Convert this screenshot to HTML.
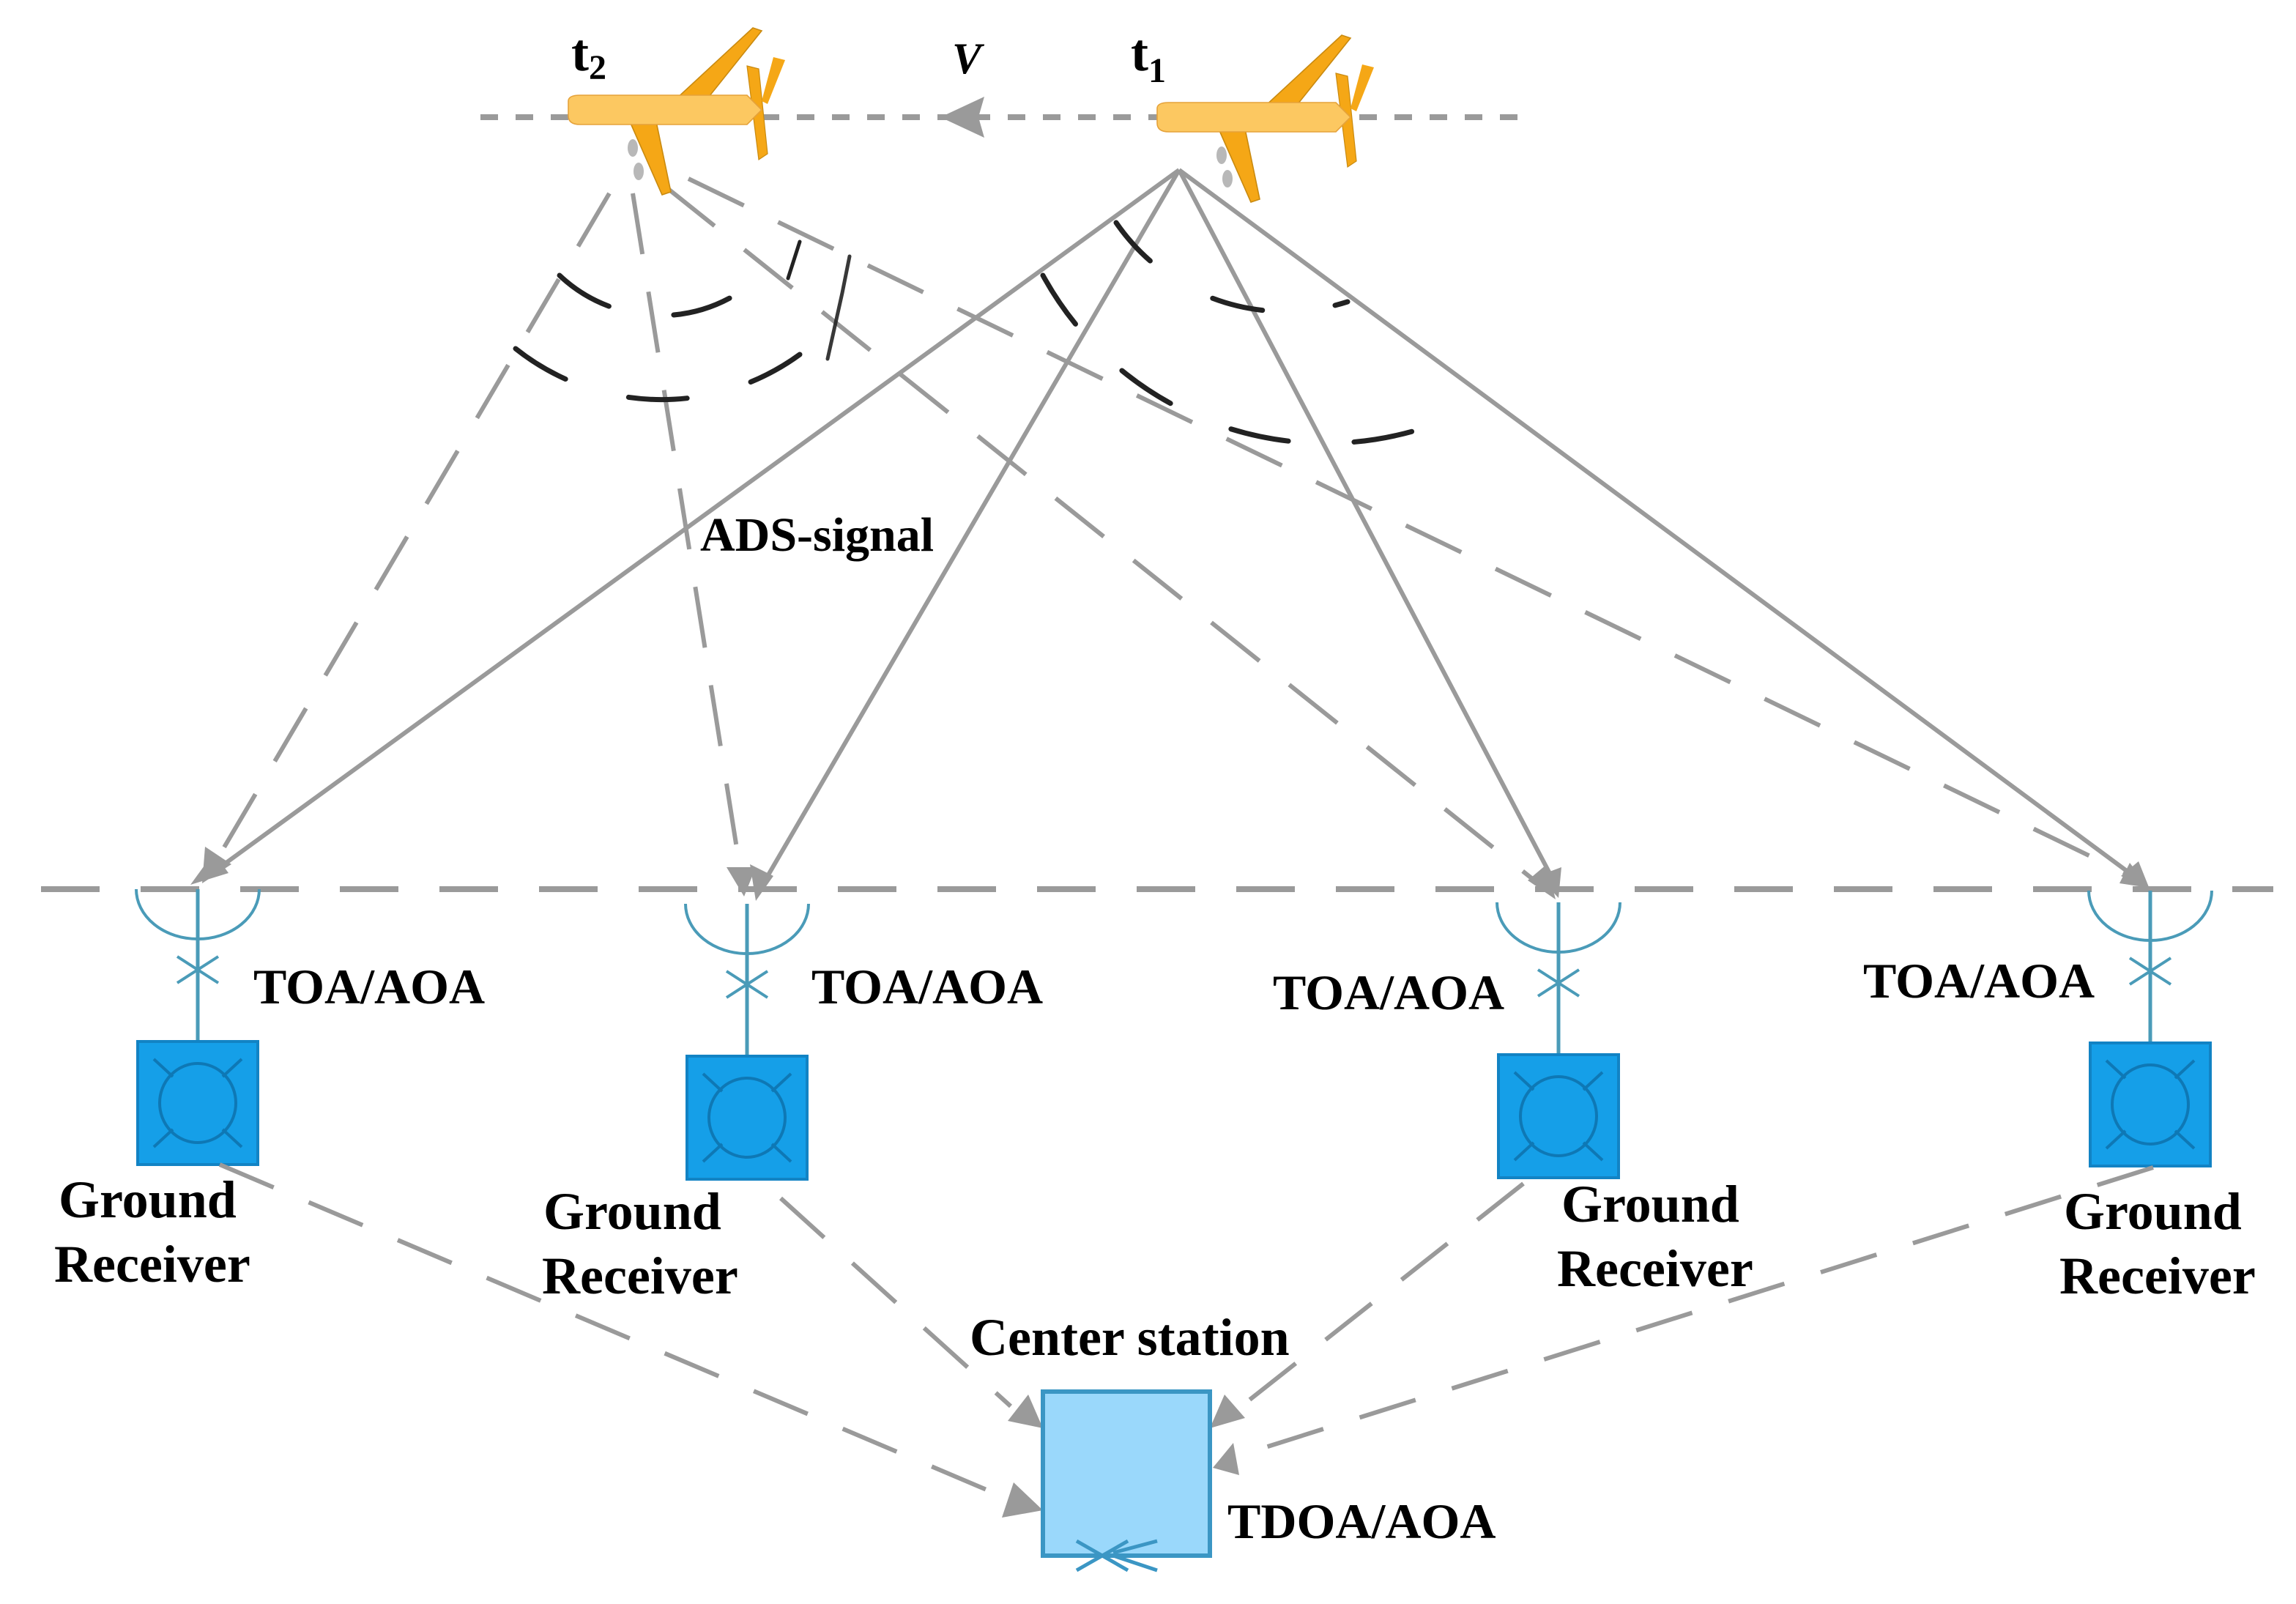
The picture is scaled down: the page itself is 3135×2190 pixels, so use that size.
<!DOCTYPE html>
<html><head><meta charset="utf-8"><style>
html,body{margin:0;padding:0;background:#fff}
svg{display:block}
text{font-family:"Liberation Serif",serif;font-weight:bold;fill:#000}
</style></head><body>
<svg width="3135" height="2190" viewBox="0 0 1567.5 1095" xmlns="http://www.w3.org/2000/svg">
<defs>
<g id="plane">
  <polygon points="20,-6 74,-56 80,-54 40,-4" fill="#f5a716" stroke="#c98a10" stroke-width="0.8"/>
  <polygon points="70,-30 78,-28 84,30 78,34" fill="#f5a716" stroke="#c98a10" stroke-width="0.6"/>
  <polygon points="88,-36 96,-34 84,-4 80,-6" fill="#f5a716"/>
  <polygon points="-10,8 8,8 18,56 12,58" fill="#f5a716" stroke="#c98a10" stroke-width="0.8"/>
  <path d="M-52,-6 Q-52,-10 -44,-10 L70,-10 L80,0 L70,10 L-44,10 Q-52,10 -52,4 Z" fill="#fcc861" stroke="#e5a23a" stroke-width="0.8"/>
  <ellipse cx="-8" cy="26" rx="3.5" ry="6" fill="#888" opacity="0.6"/>
  <ellipse cx="-4" cy="42" rx="3.5" ry="6" fill="#888" opacity="0.6"/>
</g>
<g id="rx">
  <path d="M-42,0 A42,34 0 0 0 42,0" fill="none" stroke="#4a9bb8" stroke-width="2"/>
  <line x1="0" y1="0" x2="0" y2="104" stroke="#4a9bb8" stroke-width="2.5"/>
  <line x1="-14" y1="46" x2="14" y2="64" stroke="#4a9bb8" stroke-width="2"/>
  <line x1="-14" y1="64" x2="14" y2="46" stroke="#4a9bb8" stroke-width="2"/>
  <rect x="-41" y="104" width="82" height="84" fill="#159fe8" stroke="#1283c4" stroke-width="2"/>
  <ellipse cx="0" cy="146" rx="26" ry="27" fill="none" stroke="#0e78b5" stroke-width="2"/>
  <line x1="-30" y1="116" x2="-17" y2="128" stroke="#0e78b5" stroke-width="2"/>
  <line x1="30" y1="116" x2="17" y2="128" stroke="#0e78b5" stroke-width="2"/>
  <line x1="-30" y1="176" x2="-17" y2="164" stroke="#0e78b5" stroke-width="2"/>
  <line x1="30" y1="176" x2="17" y2="164" stroke="#0e78b5" stroke-width="2"/>
</g>
</defs>

<line x1="328" y1="80" x2="1045" y2="80" stroke="#9a9a9a" stroke-width="4" stroke-dasharray="12,12"/>
<polygon points="642,80 672,66 668,80 672,94" fill="#9a9a9a"/>

<line x1="28" y1="607" x2="1552" y2="607" stroke="#9a9a9a" stroke-width="4" stroke-dasharray="40,28"/>

<use href="#rx" x="135" y="607"/>
<use href="#rx" x="510" y="617"/>
<use href="#rx" x="1064" y="616"/>
<use href="#rx" x="1468" y="608"/>

<g stroke="#9a9a9a" stroke-width="3" fill="none" stroke-dasharray="42,26">
  <line x1="416" y1="132" x2="145" y2="592"/>
  <line x1="432" y1="132" x2="506" y2="598"/>
  <line x1="455" y1="128" x2="1050" y2="603"/>
  <line x1="470" y1="122" x2="1455" y2="598"/>
</g>
<g fill="#9a9a9a">
  <polygon points="138,603 140,578 158,590"/>
  <polygon points="508,612 496,592 516,592"/>
  <polygon points="1062,614 1043,601 1056,590"/>
  <polygon points="1467,606 1447,603 1454,589"/>
</g>

<g stroke="#9a9a9a" stroke-width="3" fill="none">
  <line x1="805" y1="116" x2="142" y2="598"/>
  <line x1="805" y1="116" x2="520" y2="605"/>
  <line x1="805" y1="116" x2="1060" y2="600"/>
  <line x1="805" y1="116" x2="1462" y2="602"/>
</g>
<g fill="#9a9a9a">
  <polygon points="130,604 146,582 156,596"/>
  <polygon points="516,615 512,590 528,598"/>
  <polygon points="1064,613 1050,598 1066,592"/>
  <polygon points="1468,608 1448,598 1460,588"/>
</g>

<g stroke="#222" stroke-width="3.5" fill="none" stroke-dasharray="40,45" stroke-linecap="round">
  <path d="M382,188 A100,100 0 0 0 510,196"/>
  <path d="M352,238 A160,160 0 0 0 546,242"/>
  <path d="M762,152 A140,140 0 0 0 920,206" stroke-dasharray="35,50"/>
  <path d="M712,188 A220,220 0 0 0 998,282" stroke-dasharray="40,45"/>
  <path d="M580,175 L575,200 L565,245" stroke-dasharray="none" stroke-width="2.5" opacity="0.9"/>
  <path d="M546,165 L538,190" stroke-dasharray="none" stroke-width="2.5"/>
</g>

<use href="#plane" x="440" y="75"/>
<use href="#plane" x="842" y="80"/>

<g stroke="#9a9a9a" stroke-width="3" fill="none" stroke-dasharray="40,26">
  <line x1="150" y1="795" x2="690" y2="1024"/>
  <line x1="533" y1="818" x2="690" y2="960"/>
  <line x1="1040" y1="808" x2="845" y2="962"/>
  <line x1="1470" y1="797" x2="848" y2="993"/>
</g>
<g fill="#9a9a9a">
  <polygon points="712,1031 684,1036 692,1012"/>
  <polygon points="712,975 688,970 702,952"/>
  <polygon points="826,975 836,952 850,968"/>
  <polygon points="828,1002 842,985 846,1007"/>
</g>

<rect x="712" y="950" width="114" height="112" fill="#9ad8fb" stroke="#3b96c4" stroke-width="3"/>
<g stroke="#3b96c4" stroke-width="2.5">
  <line x1="735" y1="1052" x2="770" y2="1072"/>
  <line x1="735" y1="1072" x2="770" y2="1052"/>
  <line x1="760" y1="1060" x2="790" y2="1052"/>
  <line x1="760" y1="1062" x2="790" y2="1072"/>
</g>

<text x="390" y="48" font-size="36">t<tspan font-size="24" dy="6">2</tspan></text>
<text x="772" y="48" font-size="36">t<tspan font-size="24" dy="8">1</tspan></text>
<text x="650" y="50" font-size="30" font-style="italic" font-weight="normal">V</text>
<text x="478" y="376" font-size="33">ADS-signal</text>
<text x="173" y="685" font-size="34">TOA/AOA</text>
<text x="554" y="685" font-size="34">TOA/AOA</text>
<text x="869" y="689" font-size="34">TOA/AOA</text>
<text x="1272" y="681" font-size="34">TOA/AOA</text>
<text x="40" y="831" font-size="36">Ground</text>
<text x="37" y="875" font-size="36">Receiver</text>
<text x="371" y="839" font-size="36">Ground</text>
<text x="370" y="883" font-size="36">Receiver</text>
<text x="1066" y="834" font-size="36">Ground</text>
<text x="1063" y="878" font-size="36">Receiver</text>
<text x="1409" y="839" font-size="36">Ground</text>
<text x="1406" y="883" font-size="36">Receiver</text>
<text x="662" y="925" font-size="36">Center station</text>
<text x="838" y="1050" font-size="34">TDOA/AOA</text>
</svg>
</body></html>
